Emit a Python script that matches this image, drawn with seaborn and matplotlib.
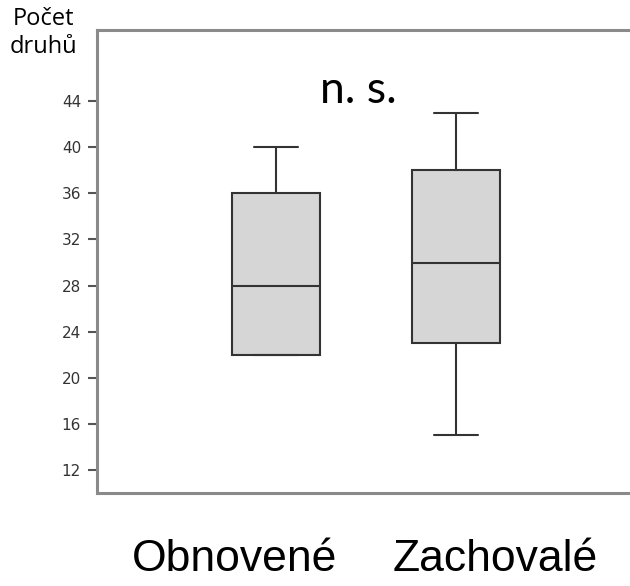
import numpy as np
import pandas as pd
import matplotlib
matplotlib.use("Agg")
import matplotlib.pyplot as plt
import seaborn as sns

# values (min, Q1, median, Q3, max per group)
categories = ["Obnovené", "Zachovalé"]
obnovene = [22, 22, 28, 36, 40]
zachovale = [15, 23, 30, 38, 43]
yticks = [12, 16, 20, 24, 28, 32, 36, 40, 44]

df = pd.DataFrame({
    "group": [categories[0]] * len(obnovene) + [categories[1]] * len(zachovale),
    "value": obnovene + zachovale,
})

sns.set_theme(style="white")

fig = plt.figure(figsize=(6.3, 5.86), dpi=100)
ax = fig.add_axes([0.154, 0.159, 0.846, 0.79])

sns.boxplot(data=df, x="group", y="value", order=categories, width=0.49,
            color="#d6d6d6", linecolor="#333333", linewidth=1.5,
            showfliers=False, saturation=1, ax=ax)

ax.set_ylim(10.0, 50.2)
ax.set_xlim(-0.994, 1.965)
ax.set_yticks(yticks)
ax.set_yticklabels([str(t) for t in yticks], fontsize=11, color="#333333",
                   family="DejaVu Sans")
ax.tick_params(axis="y", direction="out", length=6.5, width=1.5,
               color="#555555", pad=5, left=True)

# category labels sit off-centre from the boxes in the original
ax.set_xticks([-0.233, 1.215])
ax.set_xticklabels(categories, fontsize=32, family="Liberation Sans", color="black")
ax.tick_params(axis="x", length=0, pad=33)
ax.set_xlabel("")
ax.set_ylabel("")

for side in ["left", "top", "bottom"]:
    ax.spines[side].set_color("#8a8a8a")
    ax.spines[side].set_linewidth(2.2)
ax.spines["right"].set_visible(False)

ax.text(0.49, 0.87, "n. s.", transform=ax.transAxes, ha="center", va="center",
        fontsize=32, family="Lato", color="black")

fig.text(0.069, 0.944, "Počet\ndruhů", ha="center", va="center", fontsize=17,
         family="Open Sans", color="black", linespacing=1.2)

fig.savefig("out.png", dpi=100)
